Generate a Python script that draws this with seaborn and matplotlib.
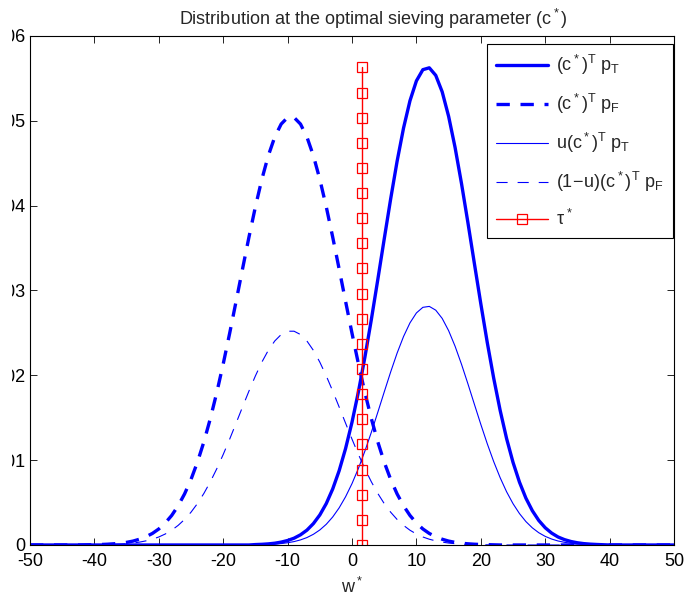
import numpy as np
import matplotlib
matplotlib.use("Agg")
import matplotlib.pyplot as plt
from matplotlib.ticker import FuncFormatter
from matplotlib.transforms import Bbox, TransformedBbox
import seaborn as sns

# sample positions along w*
w = np.arange(-50, 51, 1)

# (c*)^T p_T, w = -50 .. 50
p_true = [0] * 35 + [
    0.00005, 0.00008, 0.00013, 0.00021, 0.00034, 0.00053, 0.00080, 0.00120,
    0.00175, 0.00252, 0.00354, 0.00488, 0.00660, 0.00875, 0.01137, 0.01448,
    0.01808, 0.02214, 0.02657, 0.03127, 0.03607, 0.04079, 0.04523, 0.04915,
    0.05237, 0.05471, 0.05603, 0.05625, 0.05536, 0.05342, 0.05053, 0.04687,
    0.04261, 0.03798, 0.03318, 0.02843, 0.02387, 0.01966, 0.01587, 0.01255,
    0.00974, 0.00741, 0.00552, 0.00404, 0.00289, 0.00203, 0.00140, 0.00094,
    0.00063, 0.00041, 0.00026, 0.00016, 0.00010, 0.00006, 0.00003,
] + [0] * 11

# (c*)^T p_F, w = -50 .. 50
p_false = [0] * 9 + [
    0.00002, 0.00004, 0.00006, 0.00009, 0.00014, 0.00021, 0.00031, 0.00046,
    0.00068, 0.00097, 0.00136, 0.00189, 0.00259, 0.00348, 0.00462, 0.00602,
    0.00773, 0.00977, 0.01216, 0.01490, 0.01797, 0.02134, 0.02495, 0.02872,
    0.03254, 0.03630, 0.03987, 0.04311, 0.04589, 0.04809, 0.04962, 0.05040,
    0.05040, 0.04962, 0.04809, 0.04589, 0.04311, 0.03987, 0.03630, 0.03254,
    0.02872, 0.02495, 0.02134, 0.01797, 0.01490, 0.01216, 0.00977, 0.00773,
    0.00602, 0.00462, 0.00348, 0.00259, 0.00189, 0.00136, 0.00097, 0.00068,
    0.00046, 0.00031, 0.00021, 0.00014, 0.00009, 0.00006, 0.00004, 0.00002,
] + [0] * 28

u = 0.5            # weight of the true class
tau_star = 1.5     # optimal threshold
tau_top = 0.0563   # height of the threshold marker line
n_tau_marks = 20

p_true = np.array(p_true)
p_false = np.array(p_false)

sns.set_style("ticks")
plt.rcParams["font.family"] = ["Liberation Sans", "DejaVu Sans"]
plt.rcParams["mathtext.fontset"] = "custom"
plt.rcParams["mathtext.rm"] = "Liberation Sans"
plt.rcParams["mathtext.it"] = "Liberation Sans"
plt.rcParams["mathtext.bf"] = "Liberation Sans:bold"
plt.rcParams["axes.unicode_minus"] = False

fs = 13
fig = plt.figure(figsize=(6.88, 6.02), dpi=100)
ax = fig.add_axes([0.0436, 0.0947, 0.9361, 0.8455])

common = dict(ax=ax, estimator=None, sort=False)
sns.lineplot(x=w, y=p_true, color="blue", linewidth=2.4,
             label=r"$(c^*)^T\ p_T$", **common)
sns.lineplot(x=w, y=p_false, color="blue", linewidth=2.4,
             linestyle=(0, (4, 3.2)), label=r"$(c^*)^T\ p_F$", **common)
sns.lineplot(x=w, y=u * p_true, color="blue", linewidth=0.8,
             label=r"$u(c^*)^T\ p_T$", **common)
sns.lineplot(x=w, y=(1 - u) * p_false, color="blue", linewidth=0.8,
             linestyle=(0, (10, 9)), label=r"$(1\!-\!u)(c^*)^T\ p_F$", **common)
sns.lineplot(x=np.full(n_tau_marks, tau_star),
             y=np.linspace(0, tau_top, n_tau_marks),
             color="red", linewidth=1.0, marker="s", markersize=6.5,
             markerfacecolor="none", markeredgecolor="red",
             markeredgewidth=0.9, label=r"$\tau^*$", **common)

ax.set_xlim(-50, 50)
ax.set_ylim(0, 0.06)
ax.set_xticks(range(-50, 51, 10))
ax.set_yticks([0, 0.01, 0.02, 0.03, 0.04, 0.05, 0.06])
ax.yaxis.set_major_formatter(FuncFormatter(lambda v, _: "0" if v == 0 else f"{v:.2f}"))
ax.tick_params(direction="in", top=True, right=True, length=5, width=0.6,
               labelsize=fs, colors="black")
ax.tick_params(axis="x", pad=6)
ax.tick_params(axis="y", pad=3.5)
for s in ax.spines.values():
    s.set_visible(True)
    s.set_linewidth(0.8)
    s.set_color("black")

ax.set_title(r"Distribution at the optimal sieving parameter $(c^*)$",
             fontsize=fs, x=0.5326, pad=8)
ax.set_xlabel(r"$w^*$", fontsize=fs, labelpad=5)
ax.set_ylabel("")

leg = ax.legend(loc="upper right", bbox_to_anchor=(0.998, 0.984),
                borderaxespad=0, frameon=True, fancybox=False,
                edgecolor="black", framealpha=1, handlelength=2.9,
                handletextpad=0.45, labelspacing=0.82, borderpad=0.5,
                fontsize=fs)
leg.get_frame().set_linewidth(0.8)

# the original image is cropped a little on the left
fig.canvas.draw()
clip = TransformedBbox(Bbox.from_extents(12 / 688, 0, 1, 1), fig.transFigure)
for lbl in ax.get_yticklabels():
    lbl.set_clip_box(clip)
    lbl.set_clip_on(True)

fig.savefig("out.png", dpi=100)
